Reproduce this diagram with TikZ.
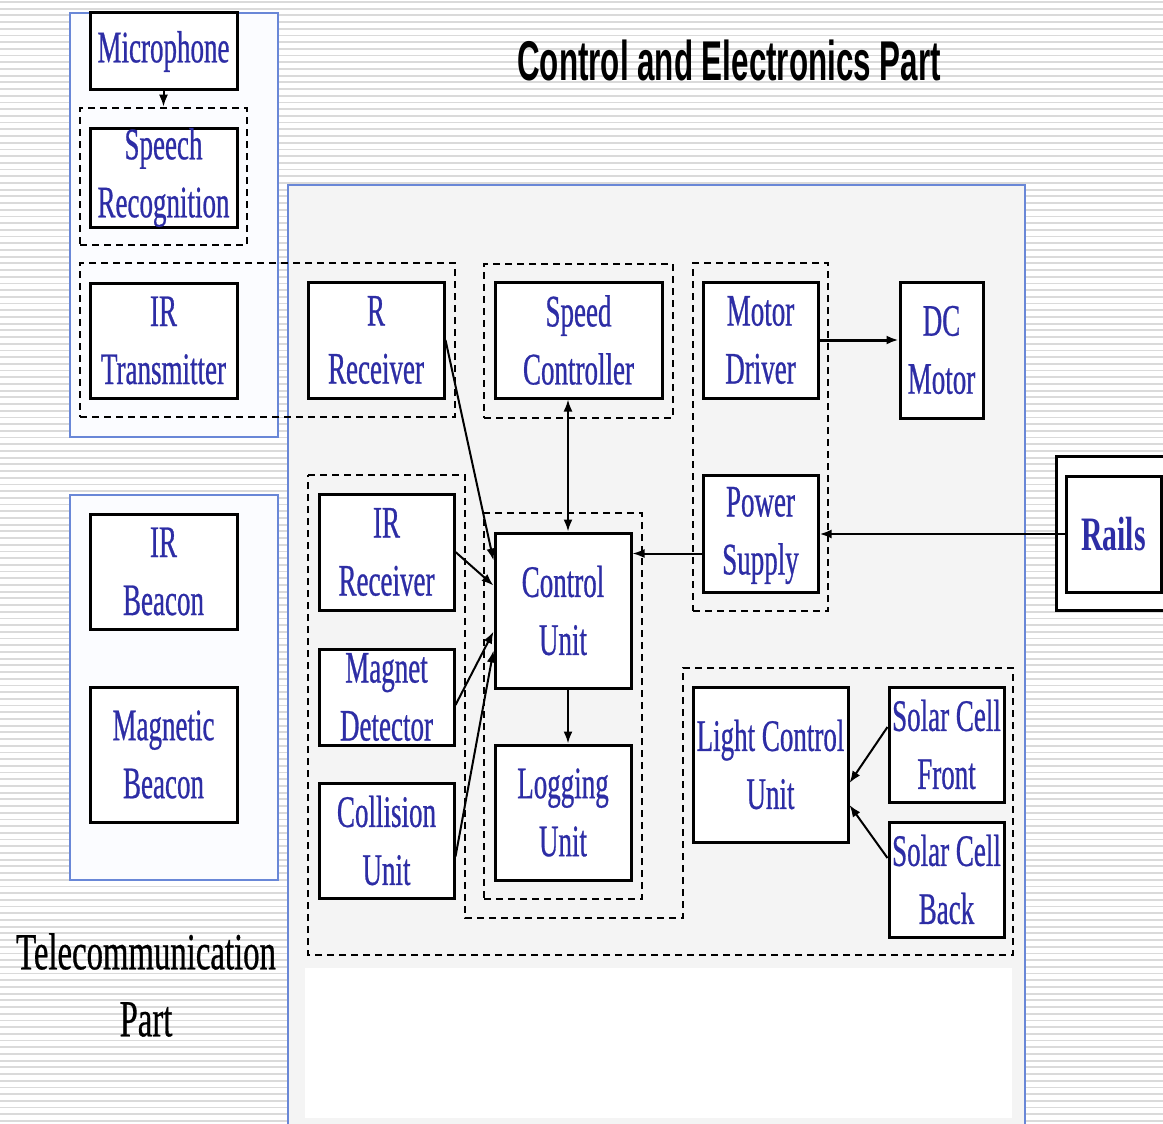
\documentclass[tikz,border=0pt]{standalone}
\usepackage{fontspec}
\setmainfont{Liberation Serif}
\newfontfamily\boxfont[FakeStretch=0.6,FakeBold=0.6]{Liberation Serif}
\newfontfamily\railsfont[FakeStretch=0.62]{Liberation Serif Bold}
\newfontfamily\titlefont[FakeStretch=0.56]{Liberation Sans Bold}
\newfontfamily\telefont[FakeStretch=0.63,FakeBold=0.6]{Liberation Serif}
\usetikzlibrary{arrows.meta,calc}

\definecolor{txtblue}{RGB}{45,45,165}
\definecolor{frameblue}{RGB}{105,135,215}
\definecolor{panelgray}{RGB}{244,244,244}
\definecolor{stripegray}{RGB}{218,218,218}
\definecolor{framefill}{RGB}{251,252,255}

\tikzset{
  box/.style={draw=black, line width=3pt, fill=white, inner sep=0pt},
  grp/.style={draw=black, line width=2.6pt, dash pattern=on 7pt off 5pt, inner sep=0pt},
  bframe/.style={draw=frameblue, line width=1.8pt},
  lbl/.style={text=txtblue, font=\boxfont\fontsize{45}{58}\selectfont, align=center, inner sep=0pt},
  conn/.style={line width=2pt, -{Latex[length=12pt,width=9pt]}},
  stripeline/.style={draw=stripegray, line width=1.8pt},
}

\newcommand\mkrect[6]{\node[#1, minimum width={(#4-#2)*1pt}, minimum height={(#5-#3)*1pt}] (#6) at ({(#2+#4)/2},{(#3+#5)/2}) {};}

\begin{document}
\begin{tikzpicture}[x=1pt,y=-1pt]
\useasboundingbox (0,0) rectangle (1163,1124);
\clip (0,0) rectangle (1163,1124);
% striped background
\fill[white] (0,0) rectangle (1163,1124);
\foreach \i in {0,...,168} {\draw[stripeline] (0,{\i*6.7+2}) -- (1163,{\i*6.7+2});}

% frames
\filldraw[bframe, fill=framefill] (70,13) rectangle (278,437);
\filldraw[bframe, fill=framefill] (70,495) rectangle (278,880);
\filldraw[bframe, fill=panelgray] (288,185) rectangle (1025,1135);
\fill[white] (305,968) rectangle (1012,1118);

% title and side caption
\node[font=\titlefont\fontsize{56}{60}\selectfont, inner sep=0pt] (title) at (729,60) {Control and Electronics Part};
\node[font=\telefont\fontsize{52}{67}\selectfont, align=center, inner sep=0pt] (tele) at (146,985) {Telecommunication\\Part};

% dashed groups
\mkrect{grp}{80}{108}{247}{245}{srg}
\mkrect{grp}{80}{263}{455}{417}{irg}
\mkrect{grp}{484}{264}{673}{418}{scg}
\mkrect{grp}{693}{263}{828}{611}{mpg}
\mkrect{grp}{484}{513}{642}{899}{cug}
\draw[grp] (308,475) -- (465,475) -- (465,918) -- (683,918) -- (683,668) -- (1013,668) -- (1013,955) -- (308,955) -- cycle;

% boxes
\mkrect{box}{90}{13}{237}{90}{mic}
\mkrect{box}{90}{128}{237}{227}{sr}
\mkrect{box}{90}{283}{237}{398}{irt}
\mkrect{box}{90}{514}{237}{629}{irb}
\mkrect{box}{90}{687}{237}{822}{mgb}
\mkrect{box}{308}{282}{444}{398}{rrec}
\mkrect{box}{495}{282}{662}{398}{sc}
\mkrect{box}{703}{282}{818}{398}{md}
\mkrect{box}{900}{282}{983}{418}{dc}
\mkrect{box}{703}{475}{818}{592}{ps}
\mkrect{box}{495}{533}{631}{688}{ctrl}
\mkrect{box}{495}{745}{631}{880}{log}
\mkrect{box}{319}{494}{454}{610}{irrec}
\mkrect{box}{319}{649}{454}{745}{mag}
\mkrect{box}{319}{783}{454}{898}{col}
\mkrect{box}{693}{687}{848}{842}{lcu}
\mkrect{box}{889}{687}{1004}{802}{scf}
\mkrect{box}{889}{822}{1004}{937}{scb}
\mkrect{box}{1056}{456}{1180}{610}{railsout}
\mkrect{box}{1066}{476}{1161}{592}{rails}

% labels
\node[lbl] at (mic) {Microphone};
\node[lbl] at (sr) {Speech\\Recognition};
\node[lbl] at (irt) {IR\\Transmitter};
\node[lbl] at (irb) {IR\\Beacon};
\node[lbl] at (mgb) {Magnetic\\Beacon};
\node[lbl] at (rrec) {R\\Receiver};
\node[lbl] at (sc) {Speed\\Controller};
\node[lbl] at (md) {Motor\\Driver};
\node[lbl] at (dc) {DC\\Motor};
\node[lbl] at ([yshift=-2pt]ps.center) {Power\\Supply};
\node[lbl] at (ctrl) {Control\\Unit};
\node[lbl] at (log) {Logging\\Unit};
\node[lbl] at (irrec) {IR\\Receiver};
\node[lbl] at (mag) {Magnet\\Detector};
\node[lbl] at (col) {Collision\\Unit};
\node[lbl] at (lcu) {Light Control\\Unit};
\node[lbl] at (scf) {Solar Cell\\Front};
\node[lbl] at (scb) {Solar Cell\\Back};
\node[lbl, font=\railsfont\fontsize{48}{58}\selectfont] at (rails) {Rails};

% connectors
\draw[conn] (mic.south) -- (srg.north);
\draw[conn] (rrec.east) -- ([yshift=-29pt]ctrl.north west);
\draw[conn] (irrec.east) -- ([yshift=-54pt]ctrl.north west);
\draw[conn] ([yshift=-8pt]mag.east) -- ([yshift=-100pt]ctrl.north west);
\draw[conn] ([yshift=-16pt]col.east) -- ([yshift=-119pt]ctrl.north west);
\draw[conn, {Latex[length=12pt,width=9pt]}-{Latex[length=12pt,width=9pt]}] ([xshift=5pt]ctrl.north |- sc.south) -- ([xshift=5pt]ctrl.north);
\draw[conn] ([xshift=5pt]ctrl.south) -- ([xshift=5pt]log.north);
\draw[conn] ([yshift=-20pt]ps.west) -- ([yshift=-20pt]ps.west -| ctrl.east);
\draw[conn, line width=3pt] (md.east) -- (md.east -| dc.west);
\draw[conn, line width=2.8pt] (rails.west) -- (rails.west -| ps.east);
\draw[conn] ([yshift=17.5pt]scf.west) -- ([yshift=-18.5pt]lcu.east);
\draw[conn] ([yshift=21.5pt]scb.west) -- ([yshift=-40.5pt]lcu.east);
\end{tikzpicture}
\end{document}
